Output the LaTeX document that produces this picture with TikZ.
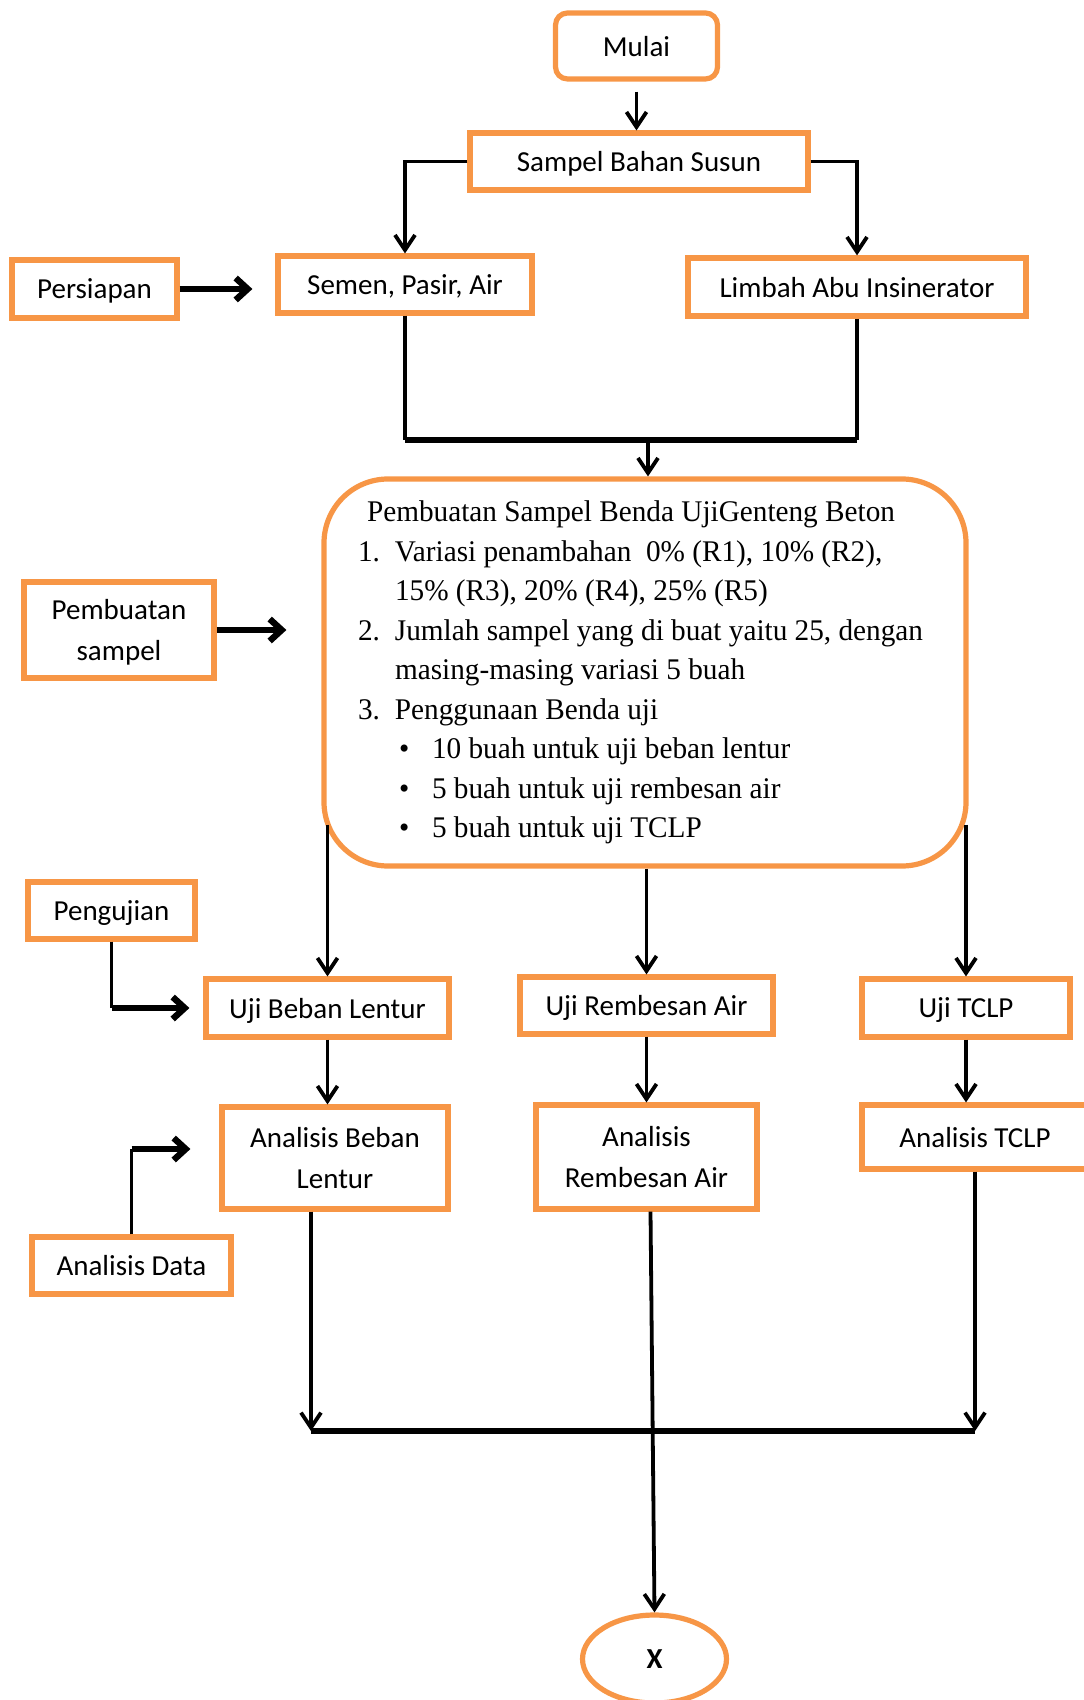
\documentclass[tikz,border=0pt]{standalone}
\usepackage{fontspec}
\setmainfont{Carlito}
\newfontfamily\tnr[FakeStretch=0.975]{Liberation Serif}
\usetikzlibrary{arrows.meta,calc,shapes.geometric}
\definecolor{orng}{HTML}{F79646}
\begin{document}
\begin{tikzpicture}[x=0.5pt,y=-0.5pt,
  box/.style={draw=orng,line width=2.6pt,fill=white,inner sep=0pt,align=center,
    text depth=0pt,font=\fontsize{14.5}{20.5}\selectfont},
  conn/.style={line width=1.9pt,line join=miter},
  heavy/.style={line width=2.8pt,line join=miter},
  arr/.style={conn,-{Straight Barb[length=7.5pt,width=10pt]}},
  thickarr/.style={line width=3.2pt,-{Straight Barb[length=6pt,width=11pt]}}]
\useasboundingbox (0,0) rectangle (1083,1700);

% nodes
\node[box,rounded corners=6pt,minimum width=81pt,minimum height=33pt] (mulai) at (636.5,46) {Mulai};
\node[box,minimum width=169pt,minimum height=28.5pt] (sampel) at (639,161.5) {Sampel Bahan Susun};
\node[box,minimum width=82.5pt,minimum height=29pt] (persiapan) at (94.5,289) {Persiapan};
\node[box,minimum width=127pt,minimum height=28.5pt] (semen) at (405,284.5) {Semen, Pasir, Air};
\node[box,minimum width=169pt,minimum height=29pt] (limbah) at (857,287) {Limbah Abu Insinerator};

\node[box,rounded corners=32pt,minimum width=321pt,minimum height=193.5pt,inner sep=0pt,text depth=] (big) at (645,672.5) {%
\begin{minipage}{287pt}\tnr\fontsize{15}{19.75}\selectfont\raggedright\hyphenpenalty=10000
\hspace*{4.5pt}Pembuatan Sampel Benda UjiGenteng Beton\\
\makebox[18.5pt][l]{1.}Variasi penambahan\ \ 0\% (R1), 10\% (R2),\\
\hspace*{18.5pt}15\% (R3), 20\% (R4), 25\% (R5)\\
\makebox[18.5pt][l]{2.}Jumlah sampel yang di buat yaitu 25, dengan\\
\hspace*{18.5pt}masing-masing variasi 5 buah\\
\makebox[18.5pt][l]{3.}Penggunaan Benda uji\\
\hspace*{20.5pt}\makebox[16.5pt][l]{\textbullet}10 buah untuk uji beban lentur\\
\hspace*{20.5pt}\makebox[16.5pt][l]{\textbullet}5 buah untuk uji rembesan air\\
\hspace*{20.5pt}\makebox[16.5pt][l]{\textbullet}5 buah untuk uji TCLP
\end{minipage}};

\node[box,minimum width=95pt,minimum height=48pt] (pembuatan) at (119,630) {Pembuatan\\sampel};
\node[box,minimum width=83.5pt,minimum height=28.5pt] (pengujian) at (111.5,910.5) {Pengujian};
\node[box,minimum width=121.5pt,minimum height=29pt] (ubl) at (327.5,1008) {Uji Beban Lentur};
\node[box,minimum width=126.5pt,minimum height=28.5pt] (ura) at (646.5,1005.5) {Uji Rembesan Air};
\node[box,minimum width=104pt,minimum height=29pt] (utclp) at (966,1008) {Uji TCLP};
\node[box,minimum width=113pt,minimum height=51pt] (abl) at (335,1158) {Analisis Beban\\Lentur};
\node[box,minimum width=110.5pt,minimum height=52pt] (ara) at (646.5,1157) {Analisis\\Rembesan Air};
\node[box,minimum width=113pt,minimum height=32pt] (atclp) at (975,1137) {Analisis TCLP};
\node[box,minimum width=99.5pt,minimum height=28.5pt] (adata) at (131.5,1265.5) {Analisis Data};
\node[box,ellipse,minimum width=72pt,minimum height=44pt,font=\bfseries\fontsize{14.5}{17}\selectfont] (xend) at (654.5,1659) {X};

% coordinates
\coordinate (jn) at (648,440);
\coordinate (hl) at (0,1431);
\coordinate (adtip) at ($(abl.west)+(-29,-9)$);
\coordinate (ablout) at ($(abl.south)+(-24,0)$);
\coordinate (araout) at ($(ara.south)+(4,0)$);
\coordinate (bigl) at ($(ubl.north |- big.south)+(0,-44)$);
\coordinate (bigr) at ($(utclp.north |- big.south)+(0,-44)$);

% connectors
\draw[arr] ($(mulai.south)+(0,10)$) -- (mulai.south |- sampel.north);
\draw[arr] (sampel.west) -| (semen.north);
\draw[arr] (sampel.east) -| (limbah.north);
\draw[thickarr] (persiapan.east) -- ($(semen.west |- persiapan.east)+(-23,0)$);
\draw[conn] (semen.south) -- (semen.south |- jn);
\draw[conn] (limbah.south) -- (limbah.south |- jn);
\draw[heavy] (semen.south |- jn) -- (limbah.south |- jn);
\draw[arr] (jn) -- (jn |- big.north);
\draw[thickarr] (pembuatan.east) -- ($(big.west |- pembuatan.east)+(-35,0)$);

\draw[arr] (bigl) -- (ubl.north);
\draw[arr] (ura.north |- big.south) -- (ura.north);
\draw[arr] (bigr) -- (utclp.north);

\draw[conn] (pengujian.south) -- (pengujian.south |- ubl.west);
\draw[thickarr] (pengujian.south |- ubl.west) -- ($(ubl.west)+(-14,0)$);

\draw[arr] (ubl.south) -- (ubl.south |- abl.north);
\draw[arr] (ura.south) -- (ura.south |- ara.north);
\draw[arr] (utclp.south) -- (utclp.south |- atclp.north);

\draw[conn] (adata.north) -- (adata.north |- adtip);
\draw[thickarr] (adata.north |- adtip) -- (adtip);

\draw[arr] (ablout) -- (ablout |- hl);
\draw[arr] (atclp.south) -- (atclp.south |- hl);
\draw[heavy] (ablout |- hl) -- (atclp.south |- hl);
\draw[arr] (araout) -- (xend.north);
\end{tikzpicture}
\end{document}
